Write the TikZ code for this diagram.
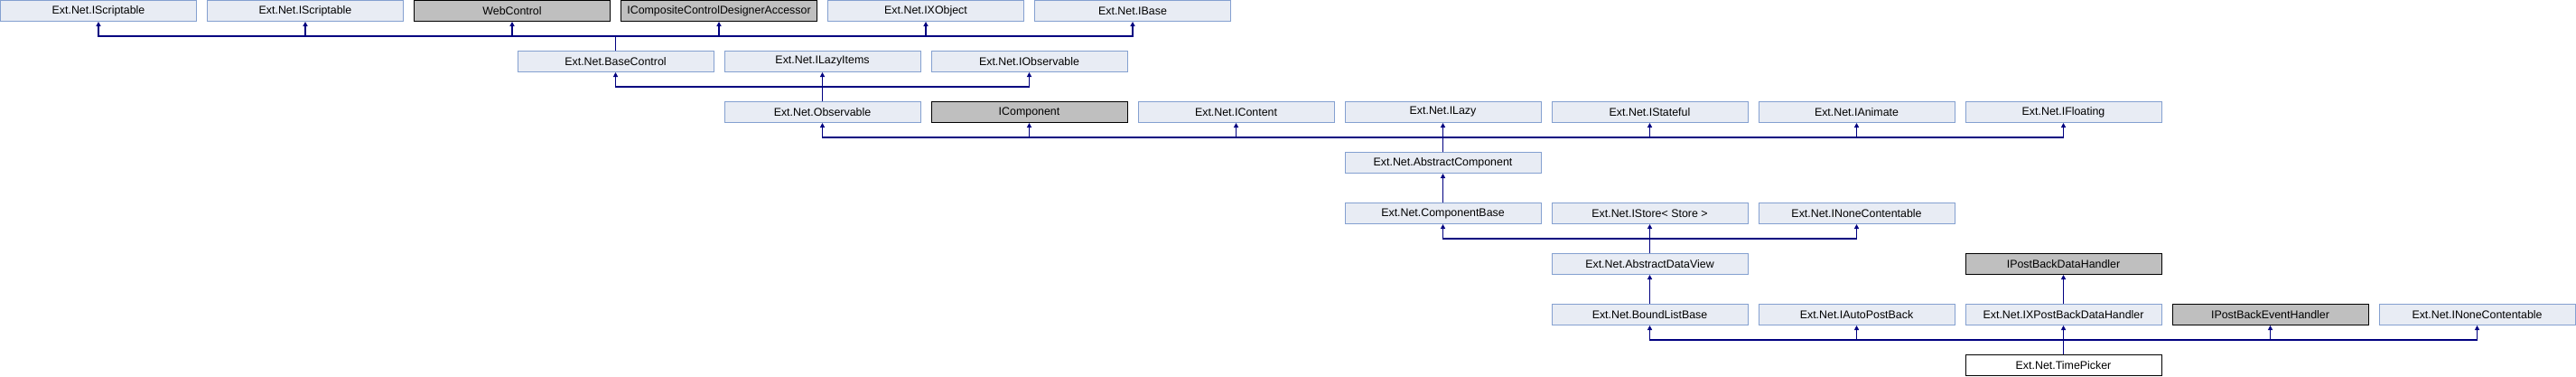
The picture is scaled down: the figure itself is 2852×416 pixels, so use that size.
\documentclass[tikz,border=0pt]{standalone}
\usepackage{fontspec}
\setmainfont{Liberation Sans}
\usetikzlibrary{arrows.meta}
\definecolor{boxfill}{RGB}{232,236,244}
\definecolor{boxline}{RGB}{132,160,208}
\definecolor{grayfill}{RGB}{191,191,191}
\definecolor{linkcol}{RGB}{0,0,128}
\begin{document}
\begin{tikzpicture}[x=1pt,y=-1pt,
  cls/.style={draw=boxline,fill=boxfill,line width=1pt,minimum width=217pt,minimum height=23pt,inner sep=0pt,
    font=\fontsize{12.4}{14}\selectfont,text=black},
  ext/.style={cls,draw=black,fill=grayfill},
  cur/.style={cls,draw=black,fill=white},
  inh/.style={draw=linkcol,line width=1.3pt,-{Triangle[length=5pt,width=5pt]}}]
\useasboundingbox (0,0) rectangle (2852,416);
% row 0
\node[cls] (s1)   at (109,12) {Ext.Net.IScriptable};
\node[cls] (s2)   at (338,12) {Ext.Net.IScriptable};
\node[ext] (wc)   at (567,12) {WebControl};
\node[ext] (icc)  at (796,12) {ICompositeControlDesignerAccessor};
\node[cls] (ixo)  at (1025,12) {Ext.Net.IXObject};
\node[cls] (ib)   at (1254,12) {Ext.Net.IBase};
% row 1
\node[cls] (bc)   at (681.5,68) {Ext.Net.BaseControl};
\node[cls] (ili)  at (910.5,68) {Ext.Net.ILazyItems};
\node[cls] (iobs) at (1139.5,68) {Ext.Net.IObservable};
% row 2
\node[cls] (obs)  at (910.5,124) {Ext.Net.Observable};
\node[ext] (icomp) at (1139.5,124) {IComponent};
\node[cls] (icont) at (1368.5,124) {Ext.Net.IContent};
\node[cls] (ilazy) at (1597.5,124) {Ext.Net.ILazy};
\node[cls] (ist)  at (1826.5,124) {Ext.Net.IStateful};
\node[cls] (ian)  at (2055.5,124) {Ext.Net.IAnimate};
\node[cls] (ifl)  at (2284.5,124) {Ext.Net.IFloating};
% row 3
\node[cls] (ac)   at (1597.5,180) {Ext.Net.AbstractComponent};
% row 4
\node[cls] (cb)   at (1597.5,236) {Ext.Net.ComponentBase};
\node[cls] (istore) at (1826.5,236) {Ext.Net.IStore< Store >};
\node[cls] (inca) at (2055.5,236) {Ext.Net.INoneContentable};
% row 5
\node[cls] (adv)  at (1826.5,292) {Ext.Net.AbstractDataView};
\node[ext] (ipbdh) at (2284.5,292) {IPostBackDataHandler};
% row 6
\node[cls] (blb)  at (1826.5,348) {Ext.Net.BoundListBase};
\node[cls] (iap)  at (2055.5,348) {Ext.Net.IAutoPostBack};
\node[cls] (ixpb) at (2284.5,348) {Ext.Net.IXPostBackDataHandler};
\node[ext] (ipbeh) at (2513.5,348) {IPostBackEventHandler};
\node[cls] (incb) at (2742.5,348) {Ext.Net.INoneContentable};
% row 7
\node[cur] (tp)   at (2284.5,404) {Ext.Net.TimePicker};
% bars
\coordinate (b1) at (0,40);
\coordinate (b2) at (0,96);
\coordinate (b3) at (0,152);
\coordinate (b5) at (0,264);
\coordinate (b7) at (0,376);
% connectors
\foreach \p in {s1,s2,wc,icc,ixo,ib}
  \draw[inh] (bc.north) -- (bc.north |- b1) -| (\p.south);
\foreach \p in {bc,ili,iobs}
  \draw[inh] (obs.north) -- (obs.north |- b2) -| (\p.south);
\foreach \p in {obs,icomp,icont,ilazy,ist,ian,ifl}
  \draw[inh] (ac.north) -- (ac.north |- b3) -| (\p.south);
\draw[inh] (cb.north) -- (ac.south);
\foreach \p in {cb,istore,inca}
  \draw[inh] (adv.north) -- (adv.north |- b5) -| (\p.south);
\draw[inh] (blb.north) -- (adv.south);
\draw[inh] (ixpb.north) -- (ipbdh.south);
\foreach \p in {blb,iap,ixpb,ipbeh,incb}
  \draw[inh] (tp.north) -- (tp.north |- b7) -| (\p.south);
\end{tikzpicture}
\end{document}
